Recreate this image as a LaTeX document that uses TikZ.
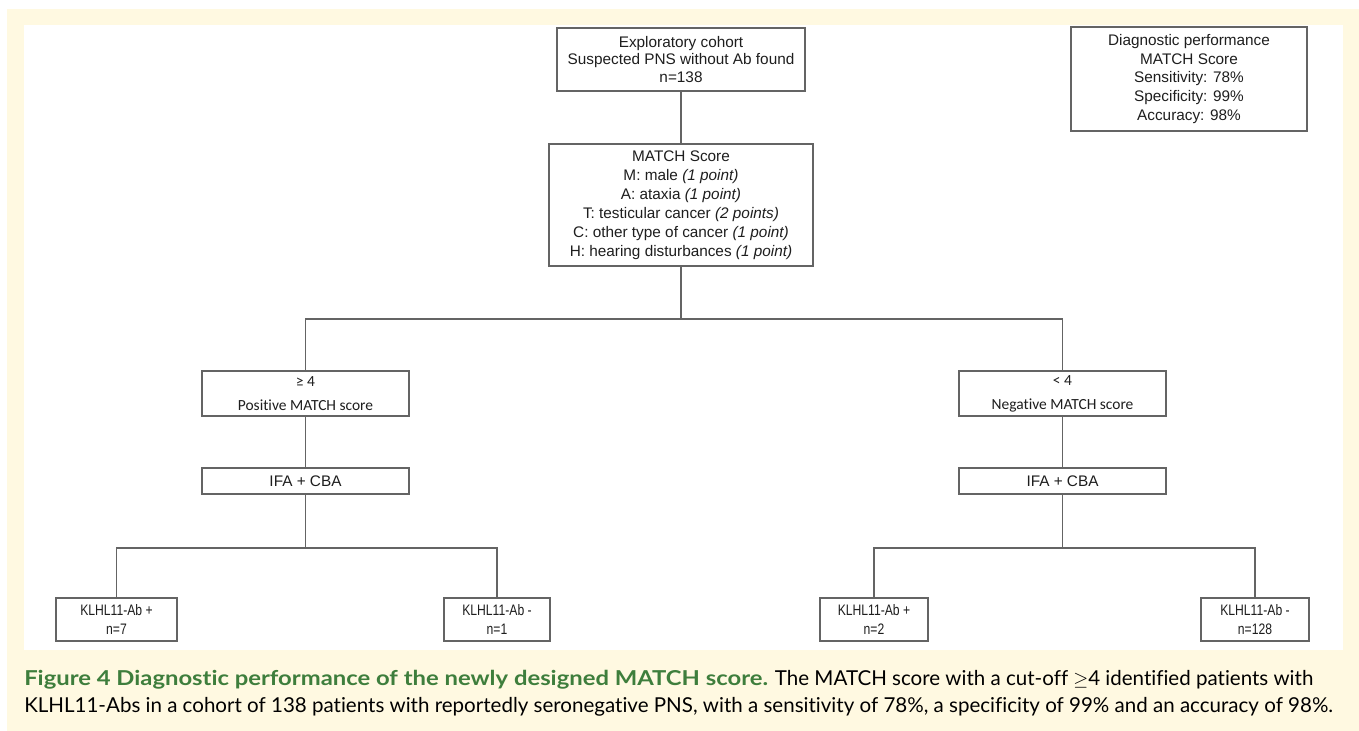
\documentclass[tikz,border=0pt]{standalone}
\usepackage{fontspec}
\usepackage{tikz}
\setmainfont{Liberation Sans}
\newfontfamily\capfont{Lato}[Ligatures=NoCommon]
\newfontfamily\capwidefont{Lato}[Ligatures=NoCommon, FakeStretch=1.16]
\newfontfamily\calfont{Carlito}[Ligatures=NoCommon]
\newfontfamily\narrowfont{Liberation Sans}[FakeStretch=0.8]
\definecolor{bgyellow}{RGB}{255,249,225}
\definecolor{capgreen}{RGB}{62,126,60}
\definecolor{linegray}{RGB}{100,100,100}
\definecolor{txt}{RGB}{30,30,30}

\tikzset{
  box/.style={draw=linegray, line width=0.8pt, fill=white, inner sep=0pt, align=center, text=txt,
    font=\fontsize{11.5}{13}\selectfont},
  cutbox/.style={box, minimum width=155.25pt, font=\calfont\fontsize{11.6}{18}\selectfont},
  leafbox/.style={box, minimum height=32.25pt, font=\narrowfont\fontsize{11.4}{14.25}\selectfont},
  link/.style={draw=linegray, line width=0.8pt}
}

\begin{document}
\begin{tikzpicture}[x=0.75pt,y=-0.75pt]
\useasboundingbox (0,0) rectangle (1359,731);
\fill[bgyellow] (7,9) rectangle (1359,731);
\fill[white] (24,25) rectangle (1343,650);

\node[box, minimum width=186pt, minimum height=47.25pt] (cohort) at (681,59.5)
  {Exploratory cohort\\Suspected PNS without Ab found\\n=138};
\node[box, minimum width=198pt, minimum height=91.5pt, font=\fontsize{11.5}{14.3}\selectfont] (match) at (681,205)
  {MATCH Score\\M: male \textit{(1 point)}\\A: ataxia \textit{(1 point)}\\T: testicular cancer \textit{(2 points)}\\C: other type of cancer \textit{(1 point)}\\H: hearing disturbances \textit{(1 point)}};
\node[box, minimum width=177pt, minimum height=78pt, font=\fontsize{11.5}{13.9}\selectfont] (perf) at (1189,79)
  {Diagnostic performance\\MATCH Score\\Sensitivity: 78\%\\Specificity: 99\%\\Accuracy: 98\%};

\node[cutbox, minimum height=33.75pt] (pos) at (305.5,393.5) {≥ 4\\Positive MATCH score};
\node[cutbox, minimum height=33.75pt] (neg) at (1062.5,393.5) {< 4\\Negative MATCH score};
\node[box, minimum width=155.25pt, minimum height=19.5pt] (ifapos) at (305.5,481) {IFA + CBA};
\node[box, minimum width=155.25pt, minimum height=19.5pt] (ifaneg) at (1062.5,481) {IFA + CBA};

\node[leafbox, minimum width=90.75pt] (pospos) at (116.5,619.5) {KLHL11-Ab +\\n=7};
\node[leafbox, minimum width=79.5pt] (posneg) at (497,619.5) {KLHL11-Ab -\\n=1};
\node[leafbox, minimum width=81pt] (negpos) at (874,619.5) {KLHL11-Ab +\\n=2};
\node[leafbox, minimum width=81pt] (negneg) at (1255,619.5) {KLHL11-Ab -\\n=128};

\coordinate (split) at (681,319);
\coordinate (splitpos) at (305.5,548);
\coordinate (splitneg) at (1062.5,548);

\draw[link] (cohort) -- (match);
\draw[link] (match) -- (split);
\draw[link] (pos.north) |- (split) -| (neg.north);
\draw[link] (pos) -- (ifapos);
\draw[link] (neg) -- (ifaneg);
\draw[link] (ifapos) -- (splitpos);
\draw[link] (ifaneg) -- (splitneg);
\draw[link] (pospos.north) |- (splitpos) -| (posneg.north);
\draw[link] (negpos.north) |- (splitneg) -| (negneg.north);

\node[anchor=base west, inner sep=0pt, font=\capfont\fontsize{15.4}{18}\selectfont] (capone) at (24,685)
  {\textcolor{capgreen}{\capwidefont\bfseries Figure 4 Diagnostic performance of the newly designed MATCH score.} The MATCH score with a cut-off $\geq$4 identified patients with};
\node[anchor=base west, inner sep=0pt, font=\capfont\fontsize{15.4}{18}\selectfont] (captwo) at (24,712)
  {KLHL11-Abs in a cohort of 138 patients with reportedly seronegative PNS, with a sensitivity of 78\%, a specificity of 99\% and an accuracy of 98\%.};
\end{tikzpicture}
\end{document}
